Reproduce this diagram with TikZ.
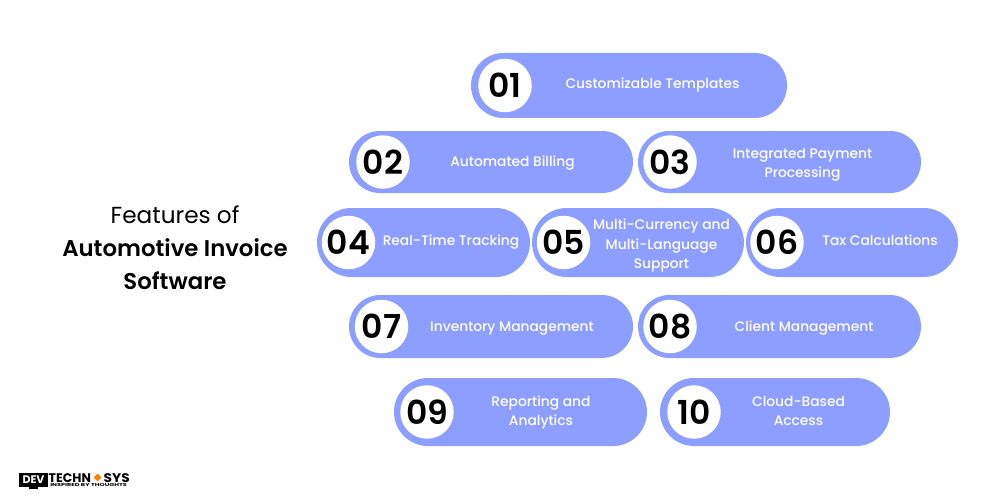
\documentclass[tikz,border=0pt]{standalone}
\usepackage{fontspec}
\setmainfont{Poppins}
\newfontfamily\pmed{Poppins Medium}
\newfontfamily\psemi{Poppins SemiBold}
\usetikzlibrary{shapes.geometric}
\definecolor{pillblue}{HTML}{8C9EFF}
\tikzset{
  x=1pt,y=-1pt,
  disc/.style={circle,fill=white,draw=none,inner sep=0,minimum size=53.5pt,font=\psemi\fontsize{33}{33}\selectfont,text=black},
  lab/.style={text=white,align=center,font=\pmed\fontsize{13.8}{19.4}\selectfont,inner sep=0},
  title/.style={text=black,align=center,font=\fontsize{23.2}{33}\selectfont,inner sep=0},
  logotext/.style={inner sep=0,text=black,anchor=base west,font=\fontsize{12.5}{12.5}\selectfont\bfseries},
}
% #1 name, #2 left, #3 top, #4 right, #5 bottom, #6 number, #7 circle cx, #8 label position, #9 text
\newcommand{\featpill}[9]{%
  \pgfmathsetmacro{\pillh}{#5-#3}%
  \pgfmathsetmacro{\pillr}{\pillh/2-0.01}%
  \path[fill=pillblue,rounded corners=\pillr pt] (#2,#3) rectangle (#4,#5);
  \node[disc] (#1n) at (#7,{(#3+#5)/2}) {#6};
  \node[lab] (#1t) at #8 {#9};
}
\begin{document}
\begin{tikzpicture}
\useasboundingbox (0,0) rectangle (1000,500);
\fill[white] (0,0) rectangle (1000,500);
\node[title] (ttl) at (175,248) {Features of\\ {\psemi\fontsize{22.8}{33}\selectfont Automotive Invoice}\\ {\psemi\fontsize{22.8}{33}\selectfont Software}};
\featpill{a}{471}{53}{787}{118}{01}{505}{(652.5,84.5)}{Customizable Templates}
\featpill{b}{349}{131}{633}{193}{02}{383}{(512.5,163)}{Automated Billing}
\featpill{c}{638}{131}{921}{193}{03}{670}{(802.5,165)}{Integrated Payment\\Processing}
\featpill{d}{317}{208}{530}{277}{04}{348.5}{(451,242.5)}{Real-Time Tracking}
\featpill{e}{532}{208}{744}{277}{05}{563.5}{(661.5,245.5)}{Multi-Currency and\\Multi-Language\\Support}
\featpill{f}{746}{208}{958}{277}{06}{777}{(880,240.5)}{Tax Calculations}
\featpill{g}{349}{295}{633}{358}{07}{381.5}{(512,328.5)}{Inventory Management}
\featpill{h}{638}{295}{921}{358}{08}{670}{(804,328.5)}{Client Management}
\featpill{i}{394}{378}{647}{446}{09}{427}{(541,412.5)}{Reporting and\\Analytics}
\featpill{j}{660}{378}{890}{446}{10}{694}{(798.5,411)}{Cloud-Based\\Access}
% logo
\fill[black] (19,473) rectangle (48,487);
\fill[black] (29,487) rectangle (38,489);
\node[inner sep=0,text=white,font=\fontsize{11}{11}\selectfont\bfseries] (dev) at (33.5,480) {DEV};
\node[logotext] (tech) at (48.5,482) {TECHN};
\node[diamond,fill=orange,inner sep=0,minimum size=8pt] (odot) at (97.5,477.5) {};
\node[logotext,xscale=1.1] (sys) at (103.5,482) {SYS};
\node[inner sep=0,text=black,anchor=base west,font=\fontsize{4.2}{4.2}\selectfont\bfseries,xscale=1.55] (tag) at (50,486.5) {INSPIRED BY THOUGHTS};
\end{tikzpicture}
\end{document}
